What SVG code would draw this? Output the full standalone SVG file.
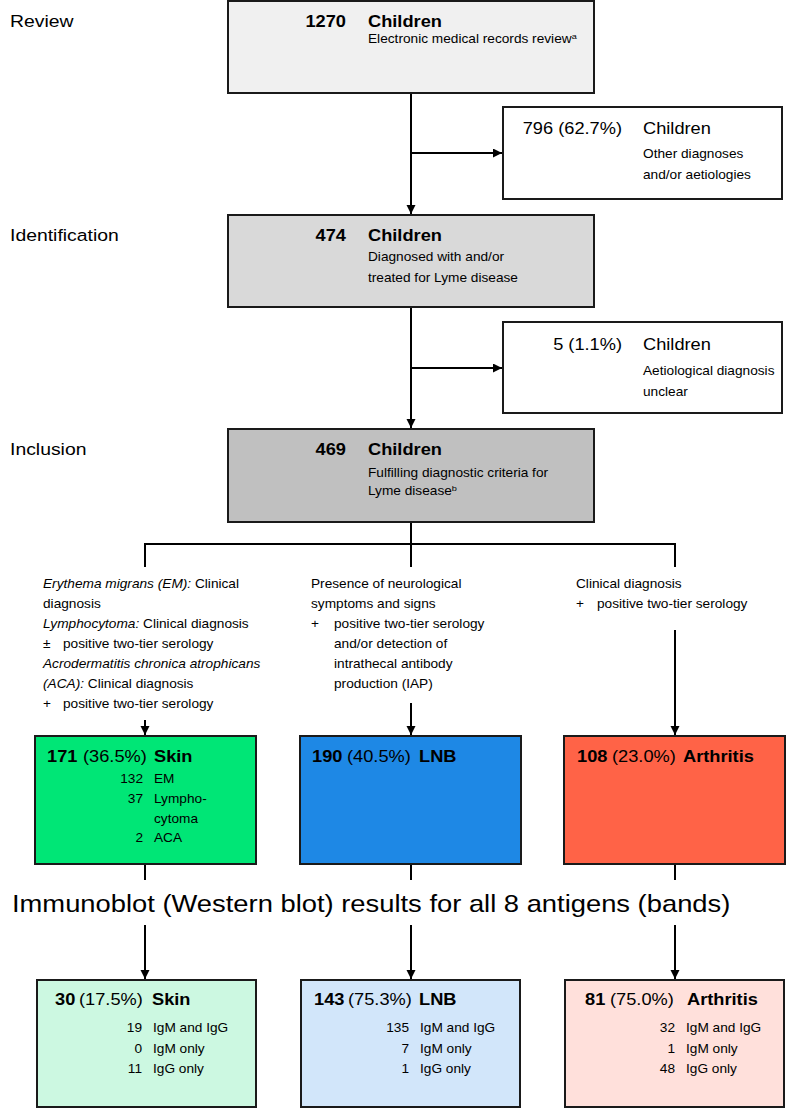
<svg xmlns="http://www.w3.org/2000/svg" width="787" height="1109" viewBox="0 0 787 1109">
<defs>
<style>
text{font-family:"Liberation Sans",Arial,Helvetica,sans-serif;fill:#000}
.lab{font-size:17px}
.hb{font-size:16px;font-weight:bold}
.hr{font-size:16px}
.s{font-size:12px}
.e{text-anchor:end}
.i{font-style:italic}
.big{font-size:24px}
.box{stroke:#1a1a1a;stroke-width:2}
.c{stroke:#000;stroke-width:2;fill:none}
.a{marker-end:url(#arr)}
</style>
<marker id="arr" markerUnits="userSpaceOnUse" markerWidth="10" markerHeight="10" refX="9" refY="4.5" orient="auto">
<path d="M0,0 L9,4.5 L0,9 z" fill="#000"/>
</marker>
</defs>
<rect width="787" height="1109" fill="#fff"/>

<g id="labels">
<text class="lab" transform="translate(10 26.5) scale(1.14 1)">Review</text>
<text class="lab" transform="translate(10 241) scale(1.14 1)">Identification</text>
<text class="lab" transform="translate(10 455) scale(1.14 1)">Inclusion</text>
</g>

<g id="connectors">
<line class="c a" x1="411" y1="93" x2="411" y2="214"/>
<line class="c a" x1="411" y1="153" x2="502" y2="153"/>
<line class="c a" x1="411" y1="307" x2="411" y2="428"/>
<line class="c a" x1="411" y1="368" x2="502" y2="368"/>
<line class="c" x1="411" y1="522" x2="411" y2="544"/>
<line class="c" x1="144" y1="544" x2="676" y2="544"/>
<line class="c" x1="145" y1="543" x2="145" y2="567"/>
<line class="c" x1="411" y1="543" x2="411" y2="567"/>
<line class="c" x1="675" y1="543" x2="675" y2="567"/>
<line class="c a" x1="145" y1="720" x2="145" y2="735"/>
<line class="c a" x1="411" y1="703" x2="411" y2="735"/>
<line class="c a" x1="675" y1="630" x2="675" y2="735"/>
<line class="c" x1="145" y1="864" x2="145" y2="880"/>
<line class="c" x1="411" y1="864" x2="411" y2="880"/>
<line class="c" x1="675" y1="864" x2="675" y2="880"/>
<line class="c a" x1="145" y1="925" x2="145" y2="979"/>
<line class="c a" x1="411" y1="925" x2="411" y2="979"/>
<line class="c a" x1="675" y1="925" x2="675" y2="979"/>
</g>

<g id="review">
<rect class="box" x="228" y="1" width="366" height="92" fill="#f0f0f0"/>
<text class="hb e" transform="translate(346 26.5) scale(1.14 1)">1270</text>
<text class="hb" transform="translate(368 26.5) scale(1.14 1)">Children</text>
<text class="s" transform="translate(368 42.5) scale(1.14 1)">Electronic medical records review<tspan font-size="8" dy="-4">a</tspan></text>
</g>

<g id="excluded1">
<rect class="box" x="503" y="107" width="279" height="92" fill="#fff"/>
<text class="hr e" transform="translate(622 134) scale(1.14 1)">796 (62.7%)</text>
<text class="hr" transform="translate(643 134) scale(1.14 1)">Children</text>
<text class="s" transform="translate(643 157.5) scale(1.14 1)">Other diagnoses</text>
<text class="s" transform="translate(643 178.5) scale(1.14 1)">and/or aetiologies</text>
</g>

<g id="identification">
<rect class="box" x="228" y="215" width="366" height="92" fill="#d9d9d9"/>
<text class="hb e" transform="translate(346 241) scale(1.14 1)">474</text>
<text class="hb" transform="translate(368 241) scale(1.14 1)">Children</text>
<text class="s" transform="translate(368 261) scale(1.14 1)">Diagnosed with and/or</text>
<text class="s" transform="translate(368 281.5) scale(1.14 1)">treated for Lyme disease</text>
</g>

<g id="excluded2">
<rect class="box" x="503" y="322" width="279" height="91" fill="#fff"/>
<text class="hr e" transform="translate(622 350) scale(1.14 1)">5 (1.1%)</text>
<text class="hr" transform="translate(643 350) scale(1.14 1)">Children</text>
<text class="s" transform="translate(643 375) scale(1.14 1)">Aetiological diagnosis</text>
<text class="s" transform="translate(643 395.5) scale(1.14 1)">unclear</text>
</g>

<g id="inclusion">
<rect class="box" x="228" y="429" width="366" height="93" fill="#c0c0c0"/>
<text class="hb e" transform="translate(346 455) scale(1.14 1)">469</text>
<text class="hb" transform="translate(368 455) scale(1.14 1)">Children</text>
<text class="s" transform="translate(368 476.5) scale(1.14 1)">Fulfilling diagnostic criteria for</text>
<text class="s" transform="translate(368 494.5) scale(1.14 1)">Lyme disease<tspan font-size="8" dy="-4">b</tspan></text>
</g>

<g id="criteria-skin">
<text class="s" transform="translate(43 588) scale(1.14 1)"><tspan class="i">Erythema migrans (EM):</tspan> Clinical</text>
<text class="s" transform="translate(43 608) scale(1.14 1)">diagnosis</text>
<text class="s" transform="translate(43 628) scale(1.14 1)"><tspan class="i">Lymphocytoma:</tspan> Clinical diagnosis</text>
<text class="s" transform="translate(43 648) scale(1.14 1)">±</text>
<text class="s" transform="translate(63 648) scale(1.14 1)">positive two-tier serology</text>
<text class="s i" transform="translate(43 668) scale(1.14 1)">Acrodermatitis chronica atrophicans</text>
<text class="s" transform="translate(43 688) scale(1.14 1)"><tspan class="i">(ACA):</tspan> Clinical diagnosis</text>
<text class="s" transform="translate(43 708) scale(1.14 1)">+</text>
<text class="s" transform="translate(63 708) scale(1.14 1)">positive two-tier serology</text>
</g>

<g id="criteria-lnb">
<text class="s" transform="translate(311 588) scale(1.14 1)">Presence of neurological</text>
<text class="s" transform="translate(311 608) scale(1.14 1)">symptoms and signs</text>
<text class="s" transform="translate(311 628) scale(1.14 1)">+</text>
<text class="s" transform="translate(334 628) scale(1.14 1)">positive two-tier serology</text>
<text class="s" transform="translate(334 648) scale(1.14 1)">and/or detection of</text>
<text class="s" transform="translate(334 668) scale(1.14 1)">intrathecal antibody</text>
<text class="s" transform="translate(334 688) scale(1.14 1)">production (IAP)</text>
</g>

<g id="criteria-arthritis">
<text class="s" transform="translate(576 588) scale(1.14 1)">Clinical diagnosis</text>
<text class="s" transform="translate(576 608) scale(1.14 1)">+</text>
<text class="s" transform="translate(597 608) scale(1.14 1)">positive two-tier serology</text>
</g>

<g id="skin">
<rect class="box" x="35" y="736" width="221" height="128" fill="#00e676"/>
<text class="hb" transform="translate(47 762) scale(1.14 1)">171</text>
<text class="hr" transform="translate(83 762) scale(1.14 1)">(36.5%)</text>
<text class="hb" transform="translate(154 762) scale(1.14 1)">Skin</text>
<text class="s e" transform="translate(143 783) scale(1.14 1)">132</text>
<text class="s" transform="translate(154 783) scale(1.14 1)">EM</text>
<text class="s e" transform="translate(143 803) scale(1.14 1)">37</text>
<text class="s" transform="translate(154 803) scale(1.14 1)">Lympho-</text>
<text class="s" transform="translate(154 822.5) scale(1.14 1)">cytoma</text>
<text class="s e" transform="translate(143 842) scale(1.14 1)">2</text>
<text class="s" transform="translate(154 842) scale(1.14 1)">ACA</text>
</g>

<g id="lnb">
<rect class="box" x="300" y="736" width="221" height="128" fill="#1e88e5"/>
<text class="hb" transform="translate(312 762) scale(1.14 1)">190</text>
<text class="hr" transform="translate(347 762) scale(1.14 1)">(40.5%)</text>
<text class="hb" transform="translate(419 762) scale(1.14 1)">LNB</text>
</g>

<g id="arthritis">
<rect class="box" x="564" y="736" width="221" height="128" fill="#ff6347"/>
<text class="hb" transform="translate(577 762) scale(1.14 1)">108</text>
<text class="hr" transform="translate(612 762) scale(1.14 1)">(23.0%)</text>
<text class="hb" transform="translate(683 762) scale(1.14 1)">Arthritis</text>
</g>

<g id="immunoblot">
<text class="big" transform="translate(12 912) scale(1.14 1)">Immunoblot (Western blot) results for all 8 antigens (bands)</text>
</g>

<g id="skin-blot">
<rect class="box" x="37" y="980" width="219" height="127" fill="#ccf8e1"/>
<text class="hb" transform="translate(55 1005) scale(1.14 1)">30</text>
<text class="hr" transform="translate(79 1005) scale(1.14 1)">(17.5%)</text>
<text class="hb" transform="translate(152 1005) scale(1.14 1)">Skin</text>
<text class="s e" transform="translate(142 1032) scale(1.14 1)">19</text>
<text class="s" transform="translate(153 1032) scale(1.14 1)">IgM and IgG</text>
<text class="s e" transform="translate(142 1052.5) scale(1.14 1)">0</text>
<text class="s" transform="translate(153 1052.5) scale(1.14 1)">IgM only</text>
<text class="s e" transform="translate(142 1073) scale(1.14 1)">11</text>
<text class="s" transform="translate(153 1073) scale(1.14 1)">IgG only</text>
</g>

<g id="lnb-blot">
<rect class="box" x="301" y="980" width="219" height="127" fill="#d2e6fa"/>
<text class="hb" transform="translate(314 1005) scale(1.14 1)">143</text>
<text class="hr" transform="translate(348 1005) scale(1.14 1)">(75.3%)</text>
<text class="hb" transform="translate(419 1005) scale(1.14 1)">LNB</text>
<text class="s e" transform="translate(409 1032) scale(1.14 1)">135</text>
<text class="s" transform="translate(420 1032) scale(1.14 1)">IgM and IgG</text>
<text class="s e" transform="translate(409 1052.5) scale(1.14 1)">7</text>
<text class="s" transform="translate(420 1052.5) scale(1.14 1)">IgM only</text>
<text class="s e" transform="translate(409 1073) scale(1.14 1)">1</text>
<text class="s" transform="translate(420 1073) scale(1.14 1)">IgG only</text>
</g>

<g id="arthritis-blot">
<rect class="box" x="565" y="980" width="219" height="127" fill="#ffe0db"/>
<text class="hb" transform="translate(585 1005) scale(1.14 1)">81</text>
<text class="hr" transform="translate(610 1005) scale(1.14 1)">(75.0%)</text>
<text class="hb" transform="translate(687 1005) scale(1.14 1)">Arthritis</text>
<text class="s e" transform="translate(675 1032) scale(1.14 1)">32</text>
<text class="s" transform="translate(686 1032) scale(1.14 1)">IgM and IgG</text>
<text class="s e" transform="translate(675 1052.5) scale(1.14 1)">1</text>
<text class="s" transform="translate(686 1052.5) scale(1.14 1)">IgM only</text>
<text class="s e" transform="translate(675 1073) scale(1.14 1)">48</text>
<text class="s" transform="translate(686 1073) scale(1.14 1)">IgG only</text>
</g>
</svg>
